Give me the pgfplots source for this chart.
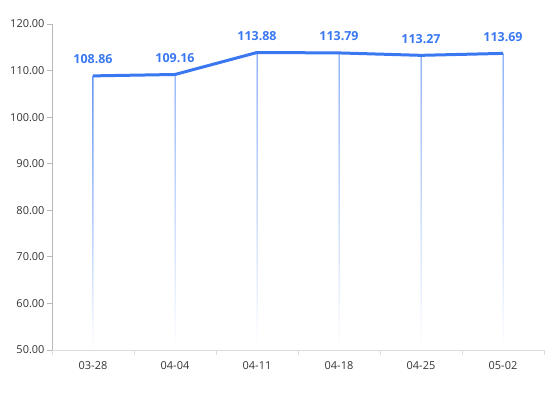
\documentclass[border=0pt]{standalone}
\usepackage{pgfplots}
\pgfplotsset{compat=1.18}
\usepackage{fontspec}
\setmainfont{Open Sans}
\definecolor{lineblue}{HTML}{3A78F2}
\definecolor{axgray}{HTML}{B8B8B8}
\definecolor{xgray}{HTML}{DCDCDC}
\definecolor{txt}{HTML}{333333}
\begin{document}
\begin{tikzpicture}
\path (-52bp,-44bp) rectangle (495bp,350bp);
\begin{axis}[
  scale only axis, width=492bp, height=326bp,
  xmin=-0.5, xmax=5.5, ymin=50, ymax=120,
  axis x line*=bottom, axis y line*=left,
  x axis line style={xgray, line width=0.8pt, -},
  y axis line style={axgray, line width=0.8pt, -},
  xtick={0,...,5},
  xticklabels={03-28,04-04,04-11,04-18,04-25,05-02},
  minor xtick={-0.5,0.5,...,5.5},
  major x tick style={draw=none},
  minor x tick style={xgray, line width=0.8pt},
  minor tick length=5bp,
  ytick={50,60,...,120},
  y tick style={axgray, line width=0.8pt},
  major tick length=5bp,
  tick align=outside,
  yticklabel style={xshift=1bp, /pgf/number format/.cd, fixed, fixed zerofill, precision=2},
  /pgf/number format/assume math mode=true,
  ticklabel style={font=\fontsize{11}{13}\selectfont, text=txt},
  xticklabel style={yshift=-3bp},
  clip=false,
]
\addplot[ybar, bar width=1bp, draw=none, top color=lineblue!85, bottom color=white, bar shift=0pt]
  coordinates {(0,108.86) (1,109.16) (2,113.88) (3,113.79) (4,113.27) (5,113.69)};
\addplot[lineblue, line width=3bp, mark=none,
  nodes near coords, point meta=explicit symbolic,
  every node near coord/.append style={font=\bfseries\fontsize{12.5}{14}\selectfont, text=lineblue, yshift=7bp}]
  coordinates {(0,108.86) [108.86] (1,109.16) [109.16] (2,113.88) [113.88] (3,113.79) [113.79] (4,113.27) [113.27] (5,113.69) [113.69]};
\end{axis}
\end{tikzpicture}
\end{document}
